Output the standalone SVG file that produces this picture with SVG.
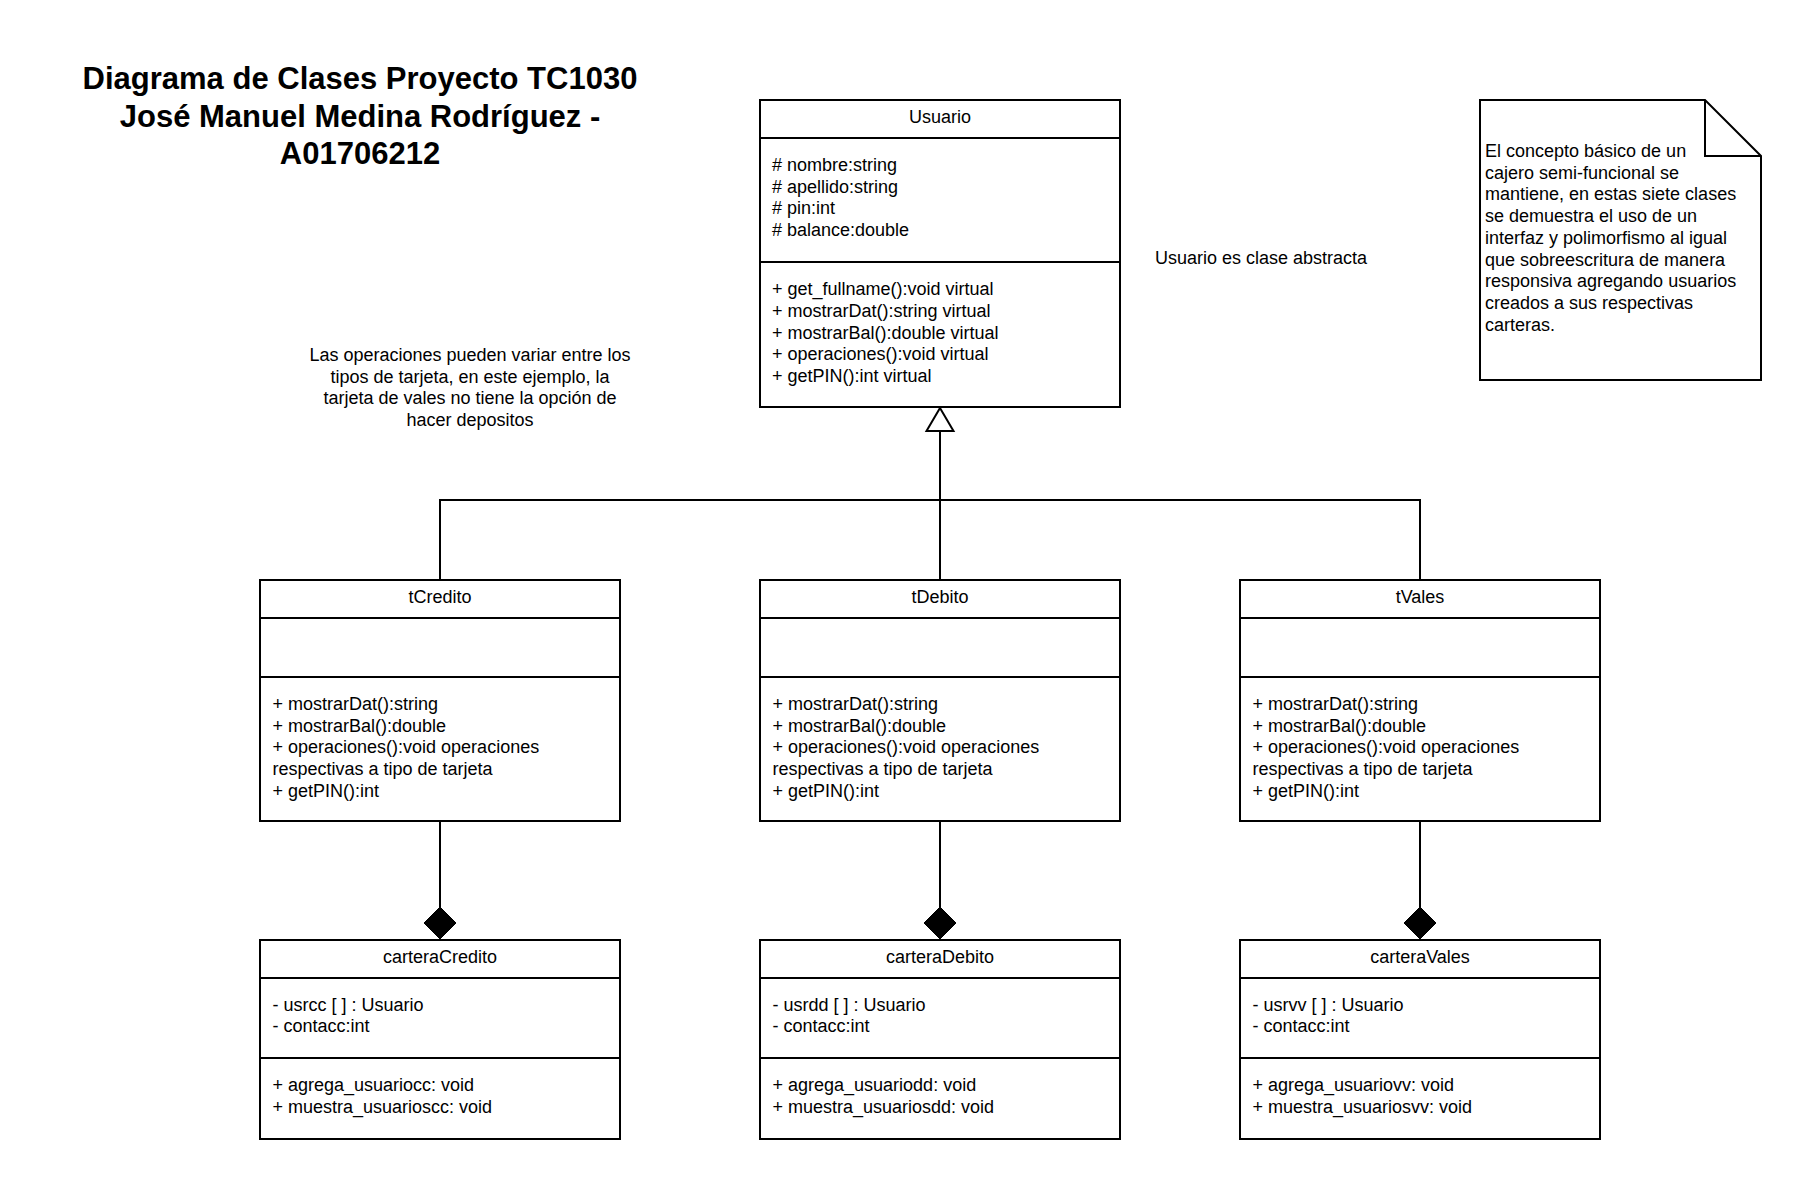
<svg xmlns="http://www.w3.org/2000/svg" width="1800" height="1179" viewBox="0 0 1800 1179">
<style>
.box{fill:#fff;stroke:#000;stroke-width:2}
.sep{stroke:#000;stroke-width:2}
.t{font-family:"Liberation Sans",Arial,sans-serif;font-size:18px;fill:#000}
.c{text-anchor:middle}
.title{font-family:"Liberation Sans",Arial,sans-serif;font-size:31px;font-weight:bold;fill:#000;text-anchor:middle}
.edge{fill:none;stroke:#000;stroke-width:2}
</style>
<rect width="1800" height="1179" fill="#fff"/>
<g id="title">
<text class="title" x="360" y="88.5">Diagrama de Clases Proyecto TC1030</text>
<text class="title" x="360" y="126.5">José Manuel Medina Rodríguez -</text>
<text class="title" x="360" y="163.5">A01706212</text>
</g>
<g id="comment-operaciones">
<text class="t c" x="470" y="361">Las operaciones pueden variar entre los</text>
<text class="t c" x="470" y="382.7">tipos de tarjeta, en este ejemplo, la</text>
<text class="t c" x="470" y="404.4">tarjeta de vales no tiene la opción de</text>
<text class="t c" x="470" y="426">hacer depositos</text>
</g>
<g id="comment-abstracta">
<text class="t" x="1155" y="264">Usuario es clase abstracta</text>
</g>
<g id="note">
<path class="box" d="M1480,100 L1705,100 L1761,156 L1761,380 L1480,380 Z"/>
<path class="edge" d="M1705,100 L1705,156 L1761,156"/>
<text class="t" x="1485" y="157">El concepto básico de un</text>
<text class="t" x="1485" y="178.7">cajero semi-funcional se</text>
<text class="t" x="1485" y="200.4">mantiene, en estas siete clases</text>
<text class="t" x="1485" y="222.1">se demuestra el uso de un</text>
<text class="t" x="1485" y="243.8">interfaz y polimorfismo al igual</text>
<text class="t" x="1485" y="265.5">que sobreescritura de manera</text>
<text class="t" x="1485" y="287.2">responsiva agregando usuarios</text>
<text class="t" x="1485" y="308.9">creados a sus respectivas</text>
<text class="t" x="1485" y="330.6">carteras.</text>
</g>
<g id="Usuario">
<rect class="box" x="760" y="100" width="360" height="307"/>
<line class="sep" x1="760" y1="138" x2="1120" y2="138"/>
<line class="sep" x1="760" y1="262" x2="1120" y2="262"/>
<text class="t c" x="940" y="123">Usuario</text>
<text class="t" x="772" y="171"># nombre:string</text>
<text class="t" x="772" y="192.7"># apellido:string</text>
<text class="t" x="772" y="214.4"># pin:int</text>
<text class="t" x="772" y="236.1"># balance:double</text>
<text class="t" x="772" y="295">+ get_fullname():void virtual</text>
<text class="t" x="772" y="316.8">+ mostrarDat():string virtual</text>
<text class="t" x="772" y="338.6">+ mostrarBal():double virtual</text>
<text class="t" x="772" y="360.4">+ operaciones():void virtual</text>
<text class="t" x="772" y="382.2">+ getPIN():int virtual</text>
</g>
<g id="tCredito">
<rect class="box" x="260" y="580" width="360" height="241"/>
<line class="sep" x1="260" y1="618" x2="620" y2="618"/>
<line class="sep" x1="260" y1="677" x2="620" y2="677"/>
<text class="t c" x="440" y="603">tCredito</text>
<text class="t" x="272.5" y="710">+ mostrarDat():string</text>
<text class="t" x="272.5" y="731.7">+ mostrarBal():double</text>
<text class="t" x="272.5" y="753.4">+ operaciones():void operaciones</text>
<text class="t" x="272.5" y="775.1">respectivas a tipo de tarjeta</text>
<text class="t" x="272.5" y="796.8">+ getPIN():int</text>
</g>
<g id="tDebito">
<rect class="box" x="760" y="580" width="360" height="241"/>
<line class="sep" x1="760" y1="618" x2="1120" y2="618"/>
<line class="sep" x1="760" y1="677" x2="1120" y2="677"/>
<text class="t c" x="940" y="603">tDebito</text>
<text class="t" x="772.5" y="710">+ mostrarDat():string</text>
<text class="t" x="772.5" y="731.7">+ mostrarBal():double</text>
<text class="t" x="772.5" y="753.4">+ operaciones():void operaciones</text>
<text class="t" x="772.5" y="775.1">respectivas a tipo de tarjeta</text>
<text class="t" x="772.5" y="796.8">+ getPIN():int</text>
</g>
<g id="tVales">
<rect class="box" x="1240" y="580" width="360" height="241"/>
<line class="sep" x1="1240" y1="618" x2="1600" y2="618"/>
<line class="sep" x1="1240" y1="677" x2="1600" y2="677"/>
<text class="t c" x="1420" y="603">tVales</text>
<text class="t" x="1252.5" y="710">+ mostrarDat():string</text>
<text class="t" x="1252.5" y="731.7">+ mostrarBal():double</text>
<text class="t" x="1252.5" y="753.4">+ operaciones():void operaciones</text>
<text class="t" x="1252.5" y="775.1">respectivas a tipo de tarjeta</text>
<text class="t" x="1252.5" y="796.8">+ getPIN():int</text>
</g>
<g id="carteraCredito">
<rect class="box" x="260" y="940" width="360" height="199"/>
<line class="sep" x1="260" y1="978" x2="620" y2="978"/>
<line class="sep" x1="260" y1="1058" x2="620" y2="1058"/>
<text class="t c" x="440" y="963">carteraCredito</text>
<text class="t" x="272.5" y="1010.5">- usrcc [ ] : Usuario</text>
<text class="t" x="272.5" y="1032.2">- contacc:int</text>
<text class="t" x="272.5" y="1091">+ agrega_usuariocc: void</text>
<text class="t" x="272.5" y="1112.7">+ muestra_usuarioscc: void</text>
</g>
<g id="carteraDebito">
<rect class="box" x="760" y="940" width="360" height="199"/>
<line class="sep" x1="760" y1="978" x2="1120" y2="978"/>
<line class="sep" x1="760" y1="1058" x2="1120" y2="1058"/>
<text class="t c" x="940" y="963">carteraDebito</text>
<text class="t" x="772.5" y="1010.5">- usrdd [ ] : Usuario</text>
<text class="t" x="772.5" y="1032.2">- contacc:int</text>
<text class="t" x="772.5" y="1091">+ agrega_usuariodd: void</text>
<text class="t" x="772.5" y="1112.7">+ muestra_usuariosdd: void</text>
</g>
<g id="carteraVales">
<rect class="box" x="1240" y="940" width="360" height="199"/>
<line class="sep" x1="1240" y1="978" x2="1600" y2="978"/>
<line class="sep" x1="1240" y1="1058" x2="1600" y2="1058"/>
<text class="t c" x="1420" y="963">carteraVales</text>
<text class="t" x="1252.5" y="1010.5">- usrvv [ ] : Usuario</text>
<text class="t" x="1252.5" y="1032.2">- contacc:int</text>
<text class="t" x="1252.5" y="1091">+ agrega_usuariovv: void</text>
<text class="t" x="1252.5" y="1112.7">+ muestra_usuariosvv: void</text>
</g>
<g id="connectors">
<path class="edge" d="M440,580 L440,500 L1420,500 L1420,580"/>
<path class="edge" d="M940,580 L940,431"/>
<path d="M940,408 L953.5,431 L926.5,431 Z" fill="#fff" stroke="#000" stroke-width="2"/>
<path class="edge" d="M440,821 L440,907"/>
<path d="M440,907 L456,923 L440,939 L424,923 Z" fill="#000" stroke="#000" stroke-width="1"/>
<path class="edge" d="M940,821 L940,907"/>
<path d="M940,907 L956,923 L940,939 L924,923 Z" fill="#000" stroke="#000" stroke-width="1"/>
<path class="edge" d="M1420,821 L1420,907"/>
<path d="M1420,907 L1436,923 L1420,939 L1404,923 Z" fill="#000" stroke="#000" stroke-width="1"/>
</g>
</svg>
